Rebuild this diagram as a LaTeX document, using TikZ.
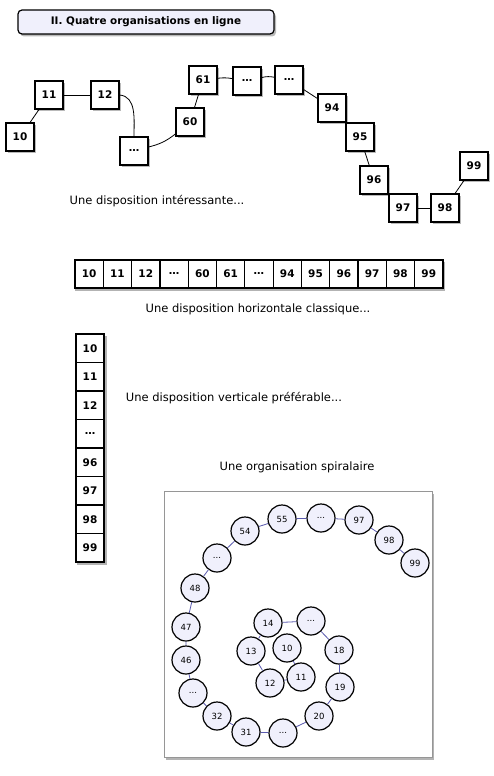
\documentclass[tikz,border=0pt]{standalone}
\usepackage{fontspec}
\setmainfont{DejaVu Sans}
\usetikzlibrary{positioning,shadows,backgrounds,fit}
\definecolor{lavender}{RGB}{240,240,252}
\definecolor{slateline}{RGB}{90,90,175}
\definecolor{framegray}{RGB}{150,150,150}
\tikzset{
  cell/.style={draw,line width=1.2pt,fill=white,minimum size=28pt,inner sep=0pt,font=\bfseries\fontsize{10.5}{12}\selectfont},
  wcell/.style={cell,drop shadow={shadow xshift=2pt,shadow yshift=-2pt,opacity=0.55}},
  ring/.style={circle,draw,line width=1.2pt,fill=lavender,minimum size=28pt,inner sep=0pt,font=\fontsize{8.5}{10}\selectfont},
  caption/.style={font=\fontsize{11.5}{13}\selectfont}
}

\begin{document}
\begin{tikzpicture}[x=1pt,y=-1pt]
  \useasboundingbox (0,0) rectangle (493,776);
  % titre
  \node[draw,line width=1.2pt,rounded corners=4pt,fill=lavender,minimum width=256pt,minimum height=24pt,font=\bfseries\fontsize{10.4}{12}\selectfont,
        drop shadow={shadow xshift=2pt,shadow yshift=-2.5pt,opacity=0.55}] (title) at (146,22) {II. Quatre organisations en ligne};

  % disposition ondulee
  \node[wcell] (w10) at (20,137) {10};
  \node[wcell] (w11) at (49,95) {11};
  \node[wcell] (w12) at (105,95) {12};
  \node[wcell] (wd1) at (134,151) {\ldots};
  \node[wcell] (w60) at (190,122) {60};
  \node[wcell] (w61) at (203,80) {61};
  \node[wcell] (wd2) at (247,81) {\ldots};
  \node[wcell] (wd3) at (289,80) {\ldots};
  \node[wcell] (w94) at (332,108) {94};
  \node[wcell] (w95) at (360,137) {95};
  \node[wcell] (w96) at (374,180) {96};
  \node[wcell] (w97) at (403,208) {97};
  \node[wcell] (w98) at (445,208) {98};
  \node[wcell] (w99) at (474,166) {99};
  \draw[thick] (w10) -- (w11); \draw[thick] (w11) -- (w12);
  \draw[thick] (w12.east) to[out=-5,in=90] (wd1.north);
  \draw[thick] (wd1) to[bend right=12] (w60);
  \draw[thick] (w60) -- (w61);
  \draw[thick] (w61) to[bend left=8] (wd2); \draw[thick] (wd2) to[bend left=12] (wd3);
  \draw[thick] (wd3) -- (w94); \draw[thick] (w95) -- (w96);
  \draw[thick] (w97) -- (w98); \draw[thick] (w98) -- (w99);
  \node[caption] (wcap) at (157,201) {Une disposition intéressante...};

  % disposition horizontale
  \foreach \lab [count=\i] in {10,11,12,\ldots,60,61,\ldots,94,95,96,97,98,99}
    \node[cell,minimum width=28.3pt] (h\i) at ({60.85+28.3*\i},274) {\lab};
  \begin{scope}[on background layer]
    \node[fit=(h1)(h13),inner sep=0pt,fill=white,drop shadow={shadow xshift=1pt,shadow yshift=-2.5pt,opacity=0.6}] (hrow) {};
  \end{scope}
  \node[caption] (hcap) at (258,309) {Une disposition horizontale classique...};

  % disposition verticale
  \foreach \lab [count=\i] in {10,11,12,\ldots,96,97,98,99}
    \node[cell,minimum height=28.5pt] (v\i) at (90,{319.75+28.5*\i}) {\lab};
  \begin{scope}[on background layer]
    \node[fit=(v1)(v8),inner sep=0pt,fill=white,drop shadow={shadow xshift=2pt,shadow yshift=-2.5pt,opacity=0.6}] (vcol) {};
  \end{scope}
  \node[caption] (vcap) at (234,398) {Une disposition verticale préférable...};

  % organisation spiralaire
  \node[caption] (scap) at (297,467) {Une organisation spiralaire};
  \node[draw=framegray,line width=0.8pt,fill=white,minimum width=268pt,minimum height=266pt,
        drop shadow={shadow xshift=2pt,shadow yshift=-3pt,opacity=0.6}] (spiral) at (298,624) {};
  \node[ring] (s10) at (287,648) {10};
  \node[ring] (s11) at (301,677) {11};
  \node[ring] (s12) at (270,683) {12};
  \node[ring] (s13) at (251,651) {13};
  \node[ring] (s14) at (268,623) {14};
  \node[ring] (sd1) at (311,621) {...};
  \node[ring] (s18) at (339,650) {18};
  \node[ring] (s19) at (340,687) {19};
  \node[ring] (s20) at (319,716) {20};
  \node[ring] (sd2) at (283,733) {...};
  \node[ring] (s31) at (246,732) {31};
  \node[ring] (s32) at (217,716) {32};
  \node[ring] (sd3) at (193,693) {...};
  \node[ring] (s46) at (186,660) {46};
  \node[ring] (s47) at (186,627) {47};
  \node[ring] (s48) at (195,588) {48};
  \node[ring] (sd4) at (217,558) {...};
  \node[ring] (s54) at (245,531) {54};
  \node[ring] (s55) at (282,519) {55};
  \node[ring] (sd5) at (321,518) {...};
  \node[ring] (s97) at (359,520) {97};
  \node[ring] (s98) at (389,540) {98};
  \node[ring] (s99) at (415,563) {99};
  \draw[slateline,line width=0.8pt] (s10) -- (s11) -- (s12) -- (s13) -- (s14) -- (sd1) -- (s18) -- (s19) -- (s20) -- (sd2) -- (s31) -- (s32)
    -- (sd3) -- (s46) -- (s47) -- (s48) -- (sd4) -- (s54) -- (s55) -- (sd5) -- (s97) -- (s98) -- (s99);
\end{tikzpicture}
\end{document}
